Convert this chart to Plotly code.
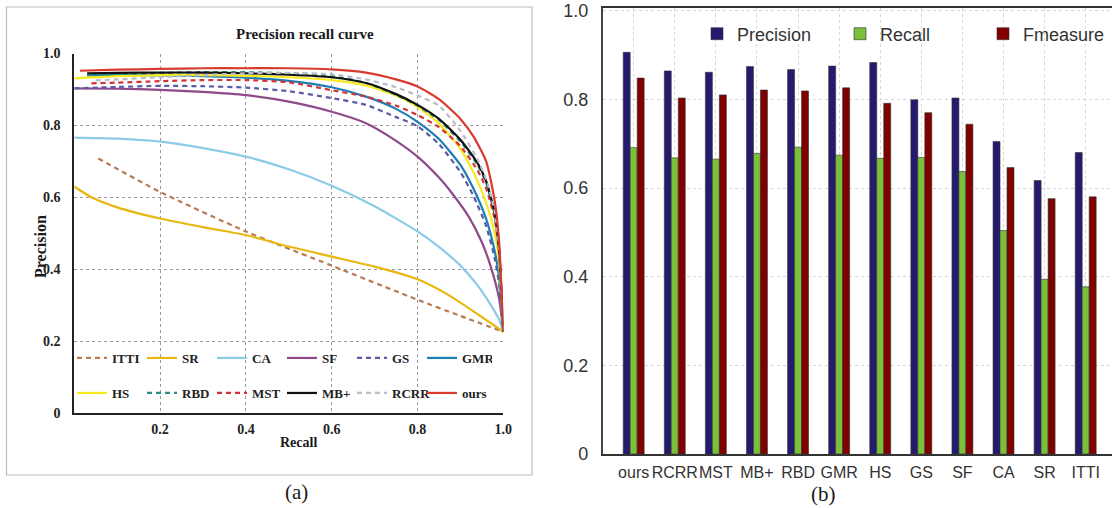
import plotly.graph_objects as go

# ---------------- Panel (a): precision-recall curves ----------------
ITTI_R = [0.056, 0.2, 0.4, 0.6, 0.8, 0.9, 1.0]
ITTI_P = [0.708, 0.615, 0.505, 0.41, 0.315, 0.27, 0.226]

SR_R = [0.0, 0.04, 0.1, 0.2, 0.3, 0.4, 0.5, 0.6, 0.7, 0.8, 0.87, 0.94, 1.0]
SR_P = [0.630, 0.600, 0.572, 0.541, 0.517, 0.495, 0.463, 0.435, 0.407, 0.372, 0.33, 0.275, 0.226]

CA_R = [0.0, 0.1, 0.2, 0.3, 0.4, 0.5, 0.6, 0.7, 0.8, 0.85, 0.9, 0.94, 0.97, 0.99, 1.0]
CA_P = [0.766, 0.763, 0.755, 0.737, 0.713, 0.678, 0.632, 0.575, 0.505, 0.462, 0.41, 0.355, 0.302, 0.26, 0.226]

SF_R = [0.0, 0.1, 0.2, 0.3, 0.4, 0.5, 0.6, 0.68, 0.75, 0.8, 0.85, 0.88, 0.92, 0.95, 0.97, 0.99, 1.0]
SF_P = [0.903, 0.902, 0.899, 0.893, 0.884, 0.866, 0.838, 0.806, 0.757, 0.713, 0.655, 0.612, 0.545, 0.475, 0.41, 0.32, 0.226]

GS_R = [0.0, 0.1, 0.2, 0.3, 0.4, 0.5, 0.6, 0.68, 0.75, 0.8, 0.85, 0.9, 0.93, 0.96, 0.98, 0.99, 1.0]
GS_P = [0.903, 0.907, 0.910, 0.909, 0.905, 0.895, 0.876, 0.857, 0.823, 0.798, 0.748, 0.67, 0.605, 0.52, 0.43, 0.36, 0.226]

GMR_R = [0.03, 0.1, 0.2, 0.3, 0.4, 0.5, 0.6, 0.68, 0.75, 0.8, 0.85, 0.9, 0.93, 0.96, 0.98, 0.99, 1.0]
GMR_P = [0.940, 0.940, 0.939, 0.937, 0.933, 0.924, 0.906, 0.880, 0.846, 0.810, 0.762, 0.69, 0.625, 0.54, 0.45, 0.38, 0.226]

HS_R = [0.0, 0.1, 0.2, 0.3, 0.4, 0.5, 0.6, 0.68, 0.75, 0.8, 0.85, 0.9, 0.93, 0.96, 0.98, 0.99, 1.0]
HS_P = [0.931, 0.937, 0.940, 0.940, 0.938, 0.934, 0.926, 0.911, 0.883, 0.852, 0.805, 0.735, 0.67, 0.585, 0.50, 0.42, 0.226]

RBD_R = [0.03, 0.1, 0.2, 0.3, 0.4, 0.5, 0.6, 0.68, 0.75, 0.8, 0.85, 0.9, 0.94, 0.96, 0.98, 0.99, 1.0]
RBD_P = [0.940, 0.943, 0.946, 0.948, 0.948, 0.945, 0.937, 0.918, 0.885, 0.855, 0.815, 0.755, 0.69, 0.64, 0.55, 0.45, 0.226]

MST_R = [0.04, 0.1, 0.2, 0.3, 0.4, 0.5, 0.6, 0.68, 0.75, 0.8, 0.85, 0.9, 0.94, 0.96, 0.98, 0.99, 1.0]
MST_P = [0.917, 0.919, 0.923, 0.926, 0.926, 0.920, 0.898, 0.880, 0.855, 0.829, 0.795, 0.742, 0.675, 0.625, 0.54, 0.45, 0.226]

MBP_R = [0.03, 0.1, 0.2, 0.3, 0.4, 0.5, 0.6, 0.68, 0.75, 0.8, 0.85, 0.9, 0.94, 0.96, 0.98, 0.99, 1.0]
MBP_P = [0.945, 0.946, 0.947, 0.947, 0.945, 0.941, 0.934, 0.918, 0.887, 0.857, 0.818, 0.76, 0.695, 0.645, 0.556, 0.46, 0.226]

RCRR_R = [0.05, 0.1, 0.2, 0.3, 0.4, 0.5, 0.6, 0.68, 0.75, 0.8, 0.85, 0.9, 0.94, 0.96, 0.98, 0.99, 1.0]
RCRR_P = [0.925, 0.928, 0.934, 0.940, 0.945, 0.946, 0.942, 0.928, 0.906, 0.883, 0.855, 0.785, 0.705, 0.65, 0.56, 0.46, 0.226]

OURS_R = [0.013, 0.1, 0.2, 0.3, 0.4, 0.5, 0.6, 0.68, 0.75, 0.8, 0.85, 0.9, 0.93, 0.96, 0.98, 0.99, 1.0]
OURS_P = [0.952, 0.955, 0.957, 0.959, 0.959, 0.959, 0.956, 0.947, 0.928, 0.908, 0.873, 0.818, 0.77, 0.70, 0.59, 0.48, 0.226]

X_TICKS = [0.2, 0.4, 0.6, 0.8, 1.0]
X_TICKTEXT = ["0.2", "0.4", "0.6", "0.8", "1.0"]
Y_TICKS = [0, 0.2, 0.4, 0.6, 0.8, 1.0]
Y_TICKTEXT = ["0", "0.2", "0.4", "0.6", "0.8", "1.0"]

# ---------------- Panel (b): bar chart ----------------
CATS = ["ours", "RCRR", "MST", "MB+", "RBD", "GMR", "HS", "GS", "SF", "CA", "SR", "ITTI"]
PRECISION = [0.906, 0.864, 0.861, 0.874, 0.867, 0.875, 0.883, 0.799, 0.803, 0.705, 0.617, 0.680]
RECALL = [0.691, 0.668, 0.665, 0.678, 0.692, 0.674, 0.667, 0.669, 0.637, 0.504, 0.394, 0.377]
FMEASURE = [0.848, 0.803, 0.810, 0.821, 0.819, 0.826, 0.791, 0.770, 0.744, 0.646, 0.576, 0.580]
BAR_YTICKS = [0, 0.2, 0.4, 0.6, 0.8, 1.0]
BAR_YTICKTEXT = ["0", "0.2", "0.4", "0.6", "0.8", "1.0"]

W, H = 1112, 508
SERIF = "Liberation Serif"
SANS = "Liberation Sans"

curves = [
    ("ITTI", ITTI_R, ITTI_P, "#b87a52", "5px,4px", "legend"),
    ("SR", SR_R, SR_P, "#e8b710", "solid", "legend"),
    ("CA", CA_R, CA_P, "#8ccbe8", "solid", "legend"),
    ("SF", SF_R, SF_P, "#8e4a88", "solid", "legend"),
    ("GS", GS_R, GS_P, "#5a5aa6", "5px,4px", "legend"),
    ("GMR", GMR_R, GMR_P, "#1d7db5", "solid", "legend"),
    ("HS", HS_R, HS_P, "#f7ea1c", "solid", "legend2"),
    ("RBD", RBD_R, RBD_P, "#2f8f7e", "5px,4px", "legend2"),
    ("MST", MST_R, MST_P, "#d2333a", "5px,4px", "legend2"),
    ("MB+", MBP_R, MBP_P, "#111111", "solid", "legend2"),
    ("RCRR", RCRR_R, RCRR_P, "#b9bdc9", "5px,4px", "legend2"),
    ("ours", OURS_R, OURS_P, "#d83a2e", "solid", "legend2"),
]

fig = go.Figure()
for name, r, p, col, dash, leg in curves:
    fig.add_trace(go.Scatter(
        x=r, y=p, name=name, mode="lines",
        line=dict(color=col, width=2.2, dash=dash, shape="spline", smoothing=0.6),
        legend=leg, xaxis="x", yaxis="y",
    ))

bar_series = [
    ("Precision", PRECISION, "#241b6f"),
    ("Recall", RECALL, "#7cbf3a"),
    ("Fmeasure", FMEASURE, "#800000"),
]
for name, vals, col in bar_series:
    fig.add_trace(go.Bar(
        x=CATS, y=vals, name=name,
        marker=dict(color=col, line=dict(color="#333333", width=0.6)),
        legend="legend3", xaxis="x2", yaxis="y2",
    ))

def px_x(v):
    return v / W

def px_y(v):
    return 1 - v / H

serif_tick = dict(family=SERIF, size=14, color="#222", weight="bold")
fig.update_layout(
    width=W, height=H,
    margin=dict(l=0, r=0, t=0, b=0, autoexpand=False),
    paper_bgcolor="white", plot_bgcolor="white",
    barmode="group", bargap=0.49, bargroupgap=0,
    xaxis=dict(
        domain=[px_x(74.3), px_x(503.3)], range=[0, 1],
        tickvals=X_TICKS, ticktext=X_TICKTEXT, tickfont=serif_tick,
        showgrid=True, gridcolor="#9a9a9a", griddash="dot", gridwidth=1,
        showline=True, linecolor="#222", linewidth=2, zeroline=False,
        ticks="", ticklabelstandoff=2, anchor="y", automargin=False,
    ),
    yaxis=dict(
        domain=[px_y(413), px_y(53.5)], range=[0, 1],
        tickvals=Y_TICKS, ticktext=Y_TICKTEXT, tickfont=serif_tick,
        showgrid=True, gridcolor="#9a9a9a", griddash="dot", gridwidth=1,
        showline=True, linecolor="#222", linewidth=2, zeroline=False,
        ticks="", ticklabelstandoff=9, anchor="x", automargin=False,
    ),
    xaxis2=dict(
        domain=[px_x(602.7), 1.0], type="category", range=[-0.754, 11.64],
        tickfont=dict(family=SANS, size=16, color="#333"), tickangle=0,
        showgrid=True, gridcolor="#d6d6d6", griddash="dot", gridwidth=1,
        showline=True, linecolor="#333", linewidth=2, mirror=True,
        ticks="", ticklabelstandoff=3, anchor="y2", automargin=False,
    ),
    yaxis2=dict(
        domain=[px_y(454), px_y(8)], range=[0, 1.006],
        tickvals=BAR_YTICKS, ticktext=BAR_YTICKTEXT,
        tickfont=dict(family=SANS, size=18, color="#333"),
        showgrid=True, gridcolor="#d6d6d6", griddash="dot", gridwidth=1,
        showline=True, linecolor="#444", linewidth=1.5, zeroline=False,
        ticks="", ticklabelstandoff=9, anchor="x2", automargin=False,
        ticklabeloverflow="allow",
    ),
    legend=dict(
        orientation="h", x=px_x(72), y=px_y(358), xanchor="left", yanchor="middle",
        entrywidth=25, entrywidthmode="pixels", bgcolor="rgba(0,0,0,0)",
        font=dict(family=SERIF, size=13, color="#222", weight="bold"),
        tracegroupgap=0, itemclick=False,
    ),
    legend2=dict(
        orientation="h", x=px_x(72), y=px_y(393), xanchor="left", yanchor="middle",
        entrywidth=25, entrywidthmode="pixels", bgcolor="rgba(0,0,0,0)",
        font=dict(family=SERIF, size=13, color="#222", weight="bold"),
        tracegroupgap=0, itemclick=False,
    ),
    legend3=dict(
        orientation="h", x=px_x(697), y=px_y(34), xanchor="left", yanchor="middle",
        entrywidth=98, entrywidthmode="pixels", bgcolor="rgba(0,0,0,0)",
        font=dict(family=SANS, size=18, color="#333"),
        itemclick=False,
    ),
    showlegend=True,
)

def label(text, x, y, size, angle=0, bold=True):
    return dict(text=text, x=px_x(x), y=px_y(y), xref="paper", yref="paper",
                xanchor="center", yanchor="middle", textangle=angle, showarrow=False,
                font=dict(family=SERIF, size=size, color="#1a1a1a",
                          weight="bold" if bold else "normal"))

annotations = [
    label("Precision recall curve", 305, 34, 15),
    label("Recall", 298, 442, 14),
    label("Precision", 40, 247, 16, angle=-90),
    label("(a)", 296, 492, 21, bold=False),
    label("(b)", 823, 494, 21, bold=False),
]
fig.update_layout(annotations=annotations)

# light frame around panel (a)
fig.add_shape(type="rect", xref="paper", yref="paper",
              x0=px_x(6.5), x1=px_x(532), y0=px_y(475), y1=px_y(7),
              line=dict(color="#bdbdbd", width=1.2), layer="below")

fig.write_html("out.html", config={"displayModeBar": False},
               post_script="document.body.style.margin='0';document.body.style.overflow='hidden';")
